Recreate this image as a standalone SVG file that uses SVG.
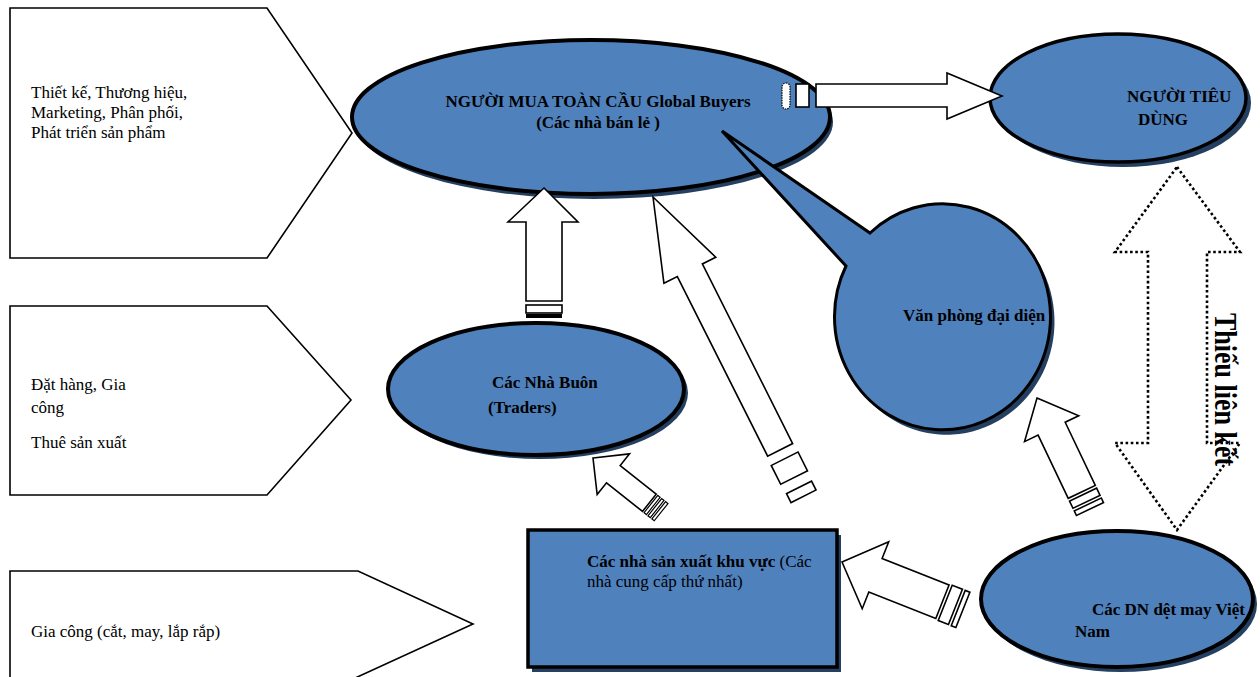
<svg xmlns="http://www.w3.org/2000/svg" width="1260" height="677" viewBox="0 0 1260 677">
<style>
.pent{fill:#fff;stroke:#000;stroke-width:1.6}
.node{fill:#4f81bd;stroke:#000;stroke-width:4}
.shadow{fill:#243f60}
.arrow{fill:#fff;stroke:#000;stroke-width:1.6;stroke-linejoin:miter}
.dotted{fill:#fff;stroke:#000;stroke-width:2.6;stroke-dasharray:2.6 2.6}
.t{font-family:"Liberation Serif","Times New Roman",serif;font-size:17px;fill:#000}
.b{font-weight:bold}
</style>
<defs>
<clipPath id="vnclip"><ellipse cx="1117" cy="599" rx="134" ry="67"/></clipPath>
<clipPath id="vpclip"><ellipse cx="941" cy="321" rx="107" ry="112"/></clipPath>
</defs>

<g id="pent-design">
<polygon class="pent" points="10,8 267,8 352,133 267,258 10,258"/>
<text class="t" x="31" y="98">Thiết kế, Thương hiệu,</text>
<text class="t" x="31" y="118">Marketing, Phân phối,</text>
<text class="t" x="31" y="138">Phát triển sản phẩm</text>
</g>

<g id="pent-order">
<polygon class="pent" points="10,306 267,306 351,400 267,495 10,495"/>
<text class="t" x="31" y="390">Đặt hàng, Gia</text>
<text class="t" x="31" y="413">công</text>
<text class="t" x="31" y="448">Thuê sản xuất</text>
</g>

<g id="pent-processing">
<polygon class="pent" points="10,571 358,571 473,624 353,679 10,679"/>
<text class="t" x="31" y="637">Gia công (cắt, may, lắp rắp)</text>
</g>

<g id="global-buyers">
<ellipse class="shadow" cx="594" cy="122" rx="239" ry="77"/>
<ellipse class="node" cx="591" cy="117" rx="239" ry="77"/>
<text class="t b" x="598" y="107" text-anchor="middle">NGƯỜI MUA TOÀN CẦU Global Buyers</text>
<text class="t b" x="598" y="128" text-anchor="middle">(Các nhà bán lẻ )</text>
</g>

<g id="consumer">
<ellipse class="shadow" cx="1123" cy="103" rx="128" ry="64"/>
<ellipse class="node" cx="1118" cy="98" rx="128" ry="64" style="stroke-width:3.5"/>
<text class="t b" x="1127" y="102">NGƯỜI TIÊU</text>
<text class="t b" x="1138" y="125">DÙNG</text>
</g>

<g id="rep-office">
<path class="shadow" transform="translate(4,5)" d="M722,131 L870,233 A108,113 0 1 1 846,266 Z"/>
<path class="node" style="stroke-width:3" d="M722,131 L870,233 A108,113 0 1 1 846,266 Z"/>
<text class="t b" x="903" y="321" clip-path="url(#vpclip)">Văn phòng đại diện</text>
</g>

<g id="traders">
<ellipse class="shadow" cx="540" cy="393" rx="148" ry="66"/>
<ellipse class="node" cx="536" cy="389" rx="148" ry="66"/>
<text class="t b" x="492" y="388">Các Nhà Buôn</text>
<text class="t b" x="488" y="413">(Traders)</text>
</g>

<g id="regional-producers">
<rect class="shadow" x="532" y="535" width="309" height="137"/>
<rect class="node" x="528" y="530" width="309" height="137" style="stroke-width:3.5"/>
<text class="t" x="587" y="567"><tspan class="b">Các nhà sản xuất khu vực</tspan> (Các</text>
<text class="t" x="587" y="587">nhà cung cấp thứ nhất)</text>
</g>

<g id="vn-textile">
<ellipse class="shadow" cx="1121" cy="604" rx="136" ry="68"/>
<ellipse class="node" cx="1117" cy="599" rx="136" ry="68"/>
<g clip-path="url(#vnclip)">
<text class="t b" x="1092" y="615">Các DN dệt may Việt</text>
</g>
<text class="t b" x="1075" y="637">Nam</text>
</g>

<g id="connectors">
<!-- buyers -> consumer -->
<g>
<rect x="782" y="83" width="8" height="26" rx="4" fill="#fff" stroke="#000" stroke-width="1.2" stroke-dasharray="1.5 1"/>
<rect x="796" y="84" width="13" height="23" class="arrow"/>
<path class="arrow" d="M816,84 L947,84 L947,73 L1002,96 L947,119 L947,107 L816,107 Z"/>
</g>
<!-- traders -> buyers -->
<g>
<path class="arrow" d="M544,188 L578,222 L562,222 L562,301 L526,301 L526,222 L508,222 Z"/>
<rect class="arrow" x="526" y="305" width="36" height="8"/>
<rect x="526" y="314" width="36" height="4" fill="#000"/>
</g>
<!-- regional producers -> buyers (long) -->
<g transform="translate(653,197) rotate(-26.7)">
<path class="arrow" d="M0,0 L29,82 L14,82 L14,283 L-14,283 L-14,82 L-29,82 Z"/>
<rect class="arrow" x="-15" y="293" width="30" height="21"/>
<rect class="arrow" x="-14" y="325" width="28" height="10"/>
</g>
<!-- regional producers -> traders -->
<g transform="translate(593,458) rotate(-51.5)">
<path class="arrow" d="M0,0 L26,26 L11,26 L11,72 L-11,72 L-11,26 L-26,26 Z"/>
<rect class="arrow" x="-11" y="74" width="22" height="3" style="stroke-width:1.2"/>
<rect class="arrow" x="-11" y="79" width="22" height="3" style="stroke-width:1.2"/>
<rect class="arrow" x="-11" y="84" width="22" height="3" style="stroke-width:1.2"/>
</g>
<!-- vn textile -> regional producers -->
<g transform="translate(842,562) rotate(-68.4)">
<path class="arrow" d="M0,0 L36,36 L18,36 L18,108 L-18,108 L-18,36 L-36,36 Z"/>
<rect class="arrow" x="-19" y="111" width="38" height="11"/>
<rect class="arrow" x="-19" y="125" width="38" height="5"/>
</g>
<!-- vn textile -> rep office -->
<g transform="translate(1037,398) rotate(-25.5)">
<path class="arrow" d="M0,0 L30,34 L15,34 L15,104 L-15,104 L-15,34 L-30,34 Z"/>
<rect class="arrow" x="-15" y="107" width="30" height="8"/>
<rect class="arrow" x="-15" y="118" width="30" height="5"/>
</g>
<!-- missing link (dotted double arrow) -->
<g>
<polygon class="dotted" points="1177,167 1240,252 1207,252 1207,443 1240,443 1177,530 1115,443 1148,443 1148,252 1115,252"/>
<text class="t b" transform="translate(1215,313) rotate(90) scale(1,1.25)" style="font-size:26px">Thiếu liên kết</text>
</g>
</g>
</svg>
